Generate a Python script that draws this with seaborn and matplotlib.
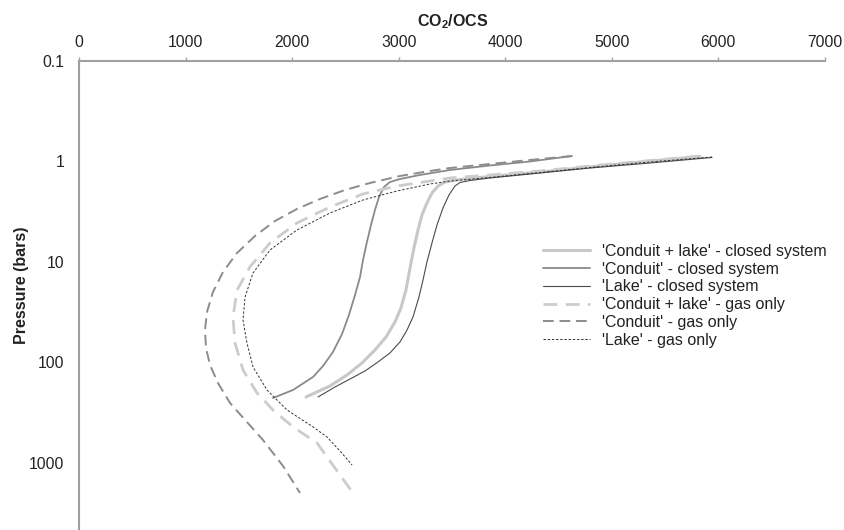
import numpy as np
import pandas as pd
import matplotlib
matplotlib.use("Agg")
import matplotlib.pyplot as plt
import seaborn as sns

# ---- data (CO2/OCS ratio vs pressure in bars) ----
conduit_lake_closed_x = [5827, 5264, 4795, 4326, 3856, 3575, 3434, 3369, 3312, 3265, 3218, 3181,
                         3143, 3106, 3068, 3021, 2965, 2881, 2777, 2655, 2515, 2355, 2130]
conduit_lake_closed_p = [0.892, 1.012, 1.134, 1.272, 1.410, 1.511, 1.60, 1.753, 2.058, 2.588, 3.407, 4.806,
                         7.26, 11.47, 19.0, 28.69, 39.5, 55.8, 75.1, 101.2, 133.2, 171.3, 220.5]

conduit_closed_x = [4626, 4232, 3856, 3481, 3200, 3012, 2918, 2862, 2815, 2777, 2740, 2702, 2665,
                    2637, 2590, 2533, 2468, 2383, 2290, 2196, 2008, 1820]
conduit_closed_p = [0.882, 1.0, 1.096, 1.215, 1.362, 1.494, 1.60, 1.794, 2.255, 3.038, 4.29, 6.32, 9.55,
                    14.1, 21.3, 33.7, 52.06, 78.6, 108.3, 139.4, 187.8, 225.6]

lake_closed_x = [5940, 5358, 4795, 4326, 3856, 3669, 3575, 3528, 3472, 3415, 3359, 3312, 3265, 3228,
                 3190, 3134, 3078, 3012, 2918, 2805, 2684, 2543, 2402, 2243]
lake_closed_p = [0.912, 1.035, 1.161, 1.301, 1.46, 1.545, 1.618, 1.753, 2.154, 2.902, 4.29, 6.47, 10, 15.1,
                 22.3, 35.3, 47.5, 62.5, 80.4, 98.9, 121.5, 146.0, 175.3, 220.5]

conduit_lake_gas_x = [5827, 5264, 4795, 4326, 3856, 3481, 3293, 2984, 2665, 2355, 2045, 1792, 1604,
                      1483, 1445, 1464, 1539, 1670, 1820, 2008, 2233, 2402, 2571]
conduit_lake_gas_p = [0.882, 1.0, 1.109, 1.243, 1.362, 1.46, 1.564, 1.753, 2.105, 2.836, 4.093, 6.47, 11.2,
                      19.0, 35.3, 64.0, 118.8, 201, 297, 438, 632, 1122, 1989]

conduit_gas_x = [4626, 4232, 3856, 3481, 3293, 3012, 2730, 2496, 2261, 2045, 1839, 1651, 1483, 1351,
                 1257, 1201, 1182, 1192, 1229, 1304, 1417, 1567, 1726, 1914, 2074]
conduit_gas_p = [0.882, 0.966, 1.059, 1.161, 1.243, 1.394, 1.637, 1.921, 2.361, 2.969, 3.908, 5.512, 8.137,
                 12.58, 19.89, 31.44, 47.5, 71.73, 105.9, 160, 253, 382, 590, 1071, 1989]

lake_gas_x = [5940, 5358, 4795, 4326, 3856, 3481, 3293, 2984, 2665, 2355, 2045, 1792, 1633, 1558, 1539,
              1576, 1633, 1764, 1952, 2196, 2327, 2449, 2562]
lake_gas_p = [0.902, 1.012, 1.147, 1.287, 1.443, 1.564, 1.675, 1.966, 2.416, 3.254, 4.806, 7.6, 12.87, 22.3,
              37.8, 64.0, 110.9, 187.8, 297, 438, 551, 760, 1047]

series_labels = ["'Conduit + lake' - closed system", "'Conduit' - closed system",
                 "'Lake' - closed system", "'Conduit + lake' - gas only",
                 "'Conduit' - gas only", "'Lake' - gas only"]
x_ticks = [0, 1000, 2000, 3000, 4000, 5000, 6000, 7000]
y_ticks = [0.1, 1, 10, 100, 1000]
y_tick_labels = ["0.1", "1", "10", "100", "1000"]

series_data = [
    (conduit_lake_closed_x, conduit_lake_closed_p),
    (conduit_closed_x, conduit_closed_p),
    (lake_closed_x, lake_closed_p),
    (conduit_lake_gas_x, conduit_lake_gas_p),
    (conduit_gas_x, conduit_gas_p),
    (lake_gas_x, lake_gas_p),
]

styles = [
    dict(color="#c8c8c8", lw=2.2, ls="-"),
    dict(color="#8a8a8a", lw=1.3, ls="-"),
    dict(color="#4a4a4a", lw=0.8, ls="-"),
    dict(color="#cccccc", lw=2.0, ls=(0, (5, 3))),
    dict(color="#8c8c8c", lw=1.4, ls=(0, (5.5, 3))),
    dict(color="#333333", lw=0.7, ls=(0, (2.5, 1.8))),
]

rows = []
for lab, (xs, ps) in zip(series_labels, series_data):
    for i, (x, p) in enumerate(zip(xs, ps)):
        rows.append({"series": lab, "ratio": x, "pressure": p, "order": i})
df = pd.DataFrame(rows)

sns.set_style("white")
plt.rcParams["font.family"] = ["Liberation Sans", "DejaVu Sans"]
plt.rcParams["mathtext.fontset"] = "custom"
plt.rcParams["mathtext.bf"] = "Liberation Sans:bold"
plt.rcParams["mathtext.rm"] = "Liberation Sans"

fig = plt.figure(figsize=(8.45, 5.3), dpi=100)
ax = fig.add_axes([79 / 845, 0.0, (825 - 79) / 845, 1 - 61 / 530])

for lab, st in zip(series_labels, styles):
    sub = df[df["series"] == lab]
    sns.lineplot(data=sub, x="ratio", y="pressure", sort=False, estimator=None,
                 color=st["color"], linewidth=st["lw"], linestyle=st["ls"],
                 label=lab, ax=ax)

ax.set_yscale("log")
ax.set_xlim(0, 7000)
ax.set_ylim(4645, 0.1)
ax.xaxis.tick_top()
ax.xaxis.set_label_position("top")
ax.set_xticks(x_ticks)
ax.set_xticklabels([str(v) for v in x_ticks])
ax.set_yticks(y_ticks)
ax.set_yticklabels(y_tick_labels)
ax.yaxis.set_minor_locator(matplotlib.ticker.NullLocator())

for s in ["right", "bottom"]:
    ax.spines[s].set_visible(False)
for s in ["left", "top"]:
    ax.spines[s].set_color("#a0a0a0")
    ax.spines[s].set_linewidth(1.5)

ax.tick_params(axis="x", which="major", direction="out", length=3, width=1,
               color="#a0a0a0", labelsize=11.3, labelcolor="#222222", pad=5)
ax.tick_params(axis="y", which="major", direction="out", length=4.5, width=1,
               color="#a0a0a0", labelsize=11.3, labelcolor="#222222", pad=6)

ax.set_xlabel(r"$\mathbf{CO_2/OCS}$", fontsize=11.5, color="#222222")
ax.xaxis.set_label_coords((453 - 79) / 746, (530 - 26) / 469)
ax.set_ylabel("Pressure (bars)", fontsize=11.5, fontweight="bold", color="#222222")
ax.yaxis.set_label_coords((29 - 79) / 746, (530 - 285) / 469)

leg = ax.legend(loc="upper left", bbox_to_anchor=(543 / 845, 1 - 244 / 530),
                bbox_transform=fig.transFigure, frameon=False, fontsize=11.5,
                handlelength=2.95, handletextpad=0.75, labelspacing=0.17,
                borderpad=0, borderaxespad=0)
for t in leg.get_texts():
    t.set_color("#222222")

fig.savefig("out.png", dpi=100)
